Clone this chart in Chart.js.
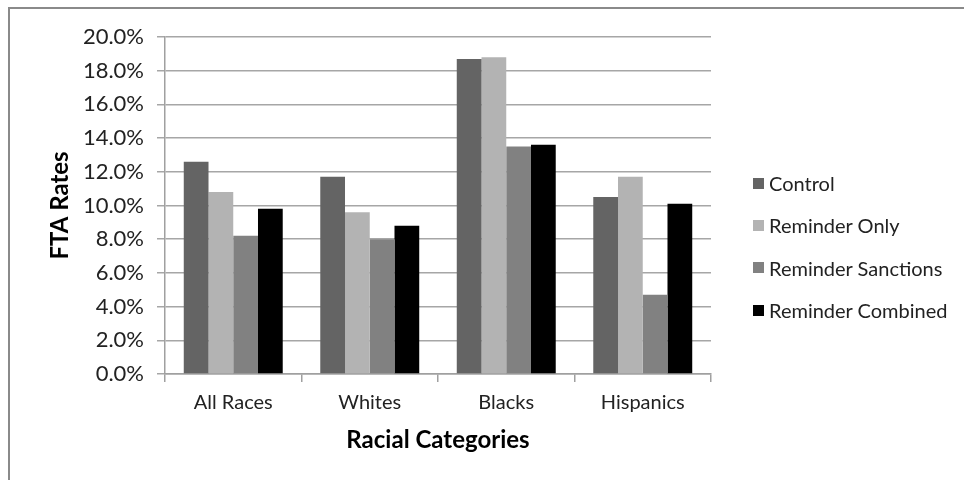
<!DOCTYPE html>
<html>
<head>
<meta charset="utf-8">
<script src="https://cdn.jsdelivr.net/npm/chart.js@4/dist/chart.umd.min.js"></script>
<style>
  html, body { margin: 0; padding: 0; background: #fff; overflow: hidden; }
  #frame { position: absolute; left: 8px; top: 7px; width: 1000px; height: 1000px; border: 2px solid #8a8a8a; }
  #chart { position: absolute; left: 0; top: 0; }
  #legend { position: absolute; left: 753px; top: 162px; margin: 0; padding: 0; list-style: none;
            font-family: Lato, 'Open Sans', sans-serif; font-size: 20px; color: #222; }
  #legend li { height: 42.3px; display: flex; align-items: center; white-space: nowrap; }
  #legend .box { display: inline-block; width: 11px; height: 11px; margin-right: 5px; }
</style>
</head>
<body>
<div id="frame"></div>
<canvas id="chart" width="964" height="480"></canvas>
<ul id="legend"></ul>
<script>
const categories = ["All Races", "Whites", "Blacks", "Hispanics"];
const control = [12.6, 11.7, 18.7, 10.5];
const reminderOnly = [10.8, 9.6, 18.8, 11.7];
const reminderSanctions = [8.2, 8.0, 13.5, 4.7];
const reminderCombined = [9.8, 8.8, 13.6, 10.1];
const yTicks = [0, 2, 4, 6, 8, 10, 12, 14, 16, 18, 20];

const fontFamily = "Lato, 'Open Sans', sans-serif";

function series(label, data, color) {
  return {
    label: label,
    data: data,
    backgroundColor: color,
    borderWidth: 0,
    barPercentage: 1,
    categoryPercentage: 0.725
  };
}

const ctx = document.getElementById("chart").getContext("2d");
const chart = new Chart(ctx, {
  type: "bar",
  data: {
    labels: categories,
    datasets: [
      series("Control", control, "#646464"),
      series("Reminder Only", reminderOnly, "#b3b3b3"),
      series("Reminder Sanctions", reminderSanctions, "#818181"),
      series("Reminder Combined", reminderCombined, "#000000")
    ]
  },
  options: {
    responsive: false,
    animation: false,
    layout: { padding: { left: 40, top: 37, right: 253, bottom: 25 } },
    plugins: {
      tooltip: { enabled: false },
      legend: { display: false }
    },
    scales: {
      x: {
        grid: { drawOnChartArea: false, drawTicks: true, tickLength: 8, color: "#a0a0a0", lineWidth: 1.5 },
        border: { color: "#a0a0a0", width: 1.5 },
        ticks: { color: "#222", padding: 9, font: { family: fontFamily, size: 20 } },
        title: { display: true, text: "Racial Categories", color: "#000", padding: 0,
                 font: { family: fontFamily, size: 24, weight: "bold" } },
        afterFit(scale) { scale.height = 81; }
      },
      y: {
        min: 0,
        max: 20,
        afterBuildTicks(scale) { scale.ticks = yTicks.map(v => ({ value: v })); },
        grid: { color: "#a6a6a6", lineWidth: 1.5, tickLength: 8 },
        border: { color: "#a0a0a0", width: 1.5 },
        ticks: {
          color: "#222",
          padding: 13,
          font: { family: fontFamily, size: 22 },
          callback: v => v.toFixed(1) + "%"
        },
        title: { display: true, text: "FTA Rates", color: "#000", padding: { top: 6, bottom: 0 },
                 font: { family: fontFamily, size: 24, weight: "bold" } },
        afterFit(scale) { scale.width = 125; }
      }
    }
  }
});

// legend built from the chart's own legend items
const legendEl = document.getElementById("legend");
Chart.defaults.plugins.legend.labels.generateLabels(chart).forEach(item => {
  const li = document.createElement("li");
  const box = document.createElement("span");
  box.className = "box";
  box.style.background = item.fillStyle;
  li.appendChild(box);
  li.appendChild(document.createTextNode(item.text));
  legendEl.appendChild(li);
});
</script>
</body>
</html>
